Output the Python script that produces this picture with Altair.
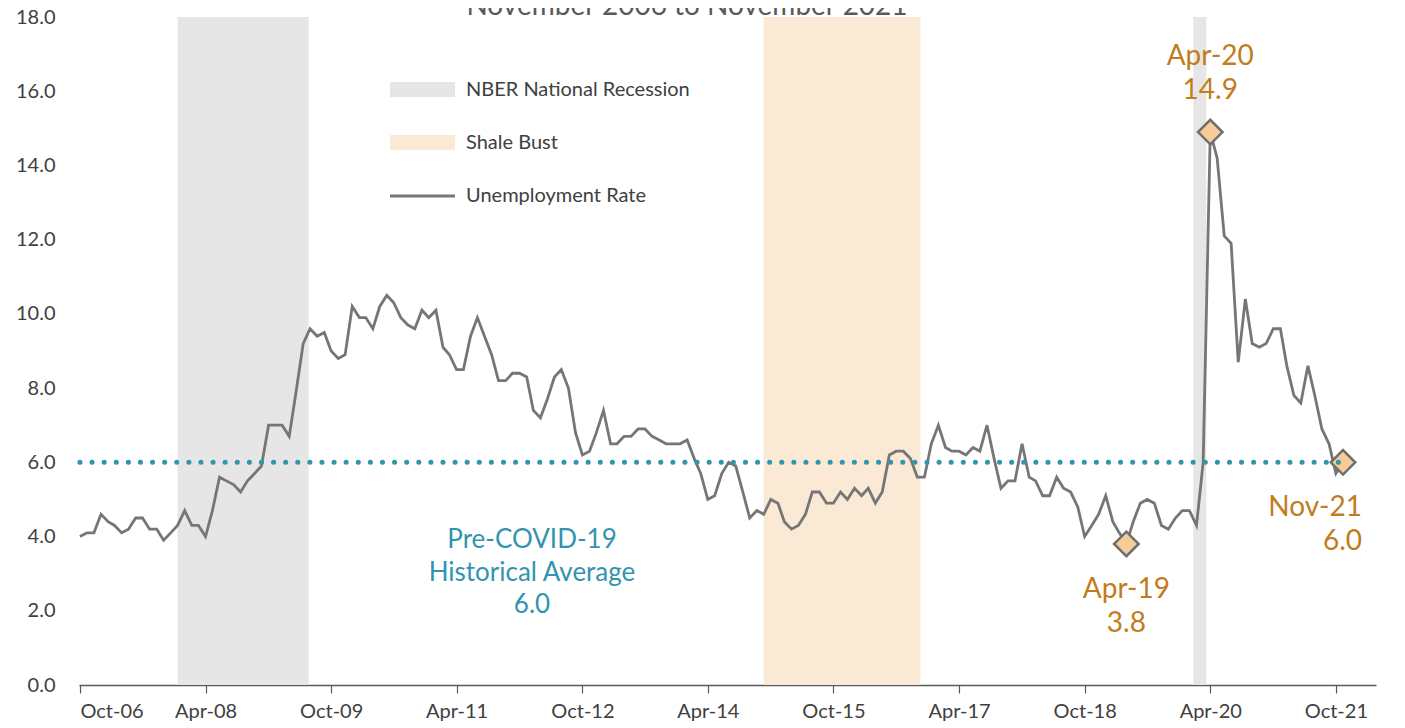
import altair as alt
import pandas as pd

# ---- data ----
start_month = "2006-10-01"
end_month = "2021-11-01"
rate = [
    4.0, 4.1, 4.1, 4.6, 4.4, 4.3, 4.1, 4.2, 4.5, 4.5,
    4.2, 4.2, 3.9, 4.1, 4.3, 4.7, 4.3, 4.3, 4.0, 4.7,
    5.6, 5.5, 5.4, 5.2, 5.5, 5.7, 5.9, 7.0, 7.0, 7.0,
    6.7, 7.9, 9.2, 9.6, 9.4, 9.5, 9.0, 8.8, 8.9, 10.2,
    9.9, 9.9, 9.6, 10.2, 10.5, 10.3, 9.9, 9.7, 9.6, 10.1,
    9.9, 10.1, 9.1, 8.9, 8.5, 8.5, 9.4, 9.9, 9.4, 8.9,
    8.2, 8.2, 8.4, 8.4, 8.3, 7.4, 7.2, 7.7, 8.3, 8.5,
    8.0, 6.8, 6.2, 6.3, 6.8, 7.4, 6.5, 6.5, 6.7, 6.7,
    6.9, 6.9, 6.7, 6.6, 6.5, 6.5, 6.5, 6.6, 6.1, 5.7,
    5.0, 5.1, 5.7, 6.0, 5.9, 5.2, 4.5, 4.7, 4.6, 5.0,
    4.9, 4.4, 4.2, 4.3, 4.6, 5.2, 5.2, 4.9, 4.9, 5.2,
    5.0, 5.3, 5.1, 5.3, 4.9, 5.2, 6.2, 6.3, 6.3, 6.1,
    5.6, 5.6, 6.5, 7.0, 6.4, 6.3, 6.3, 6.2, 6.4, 6.3,
    7.0, 6.1, 5.3, 5.5, 5.5, 6.5, 5.6, 5.5, 5.1, 5.1,
    5.6, 5.3, 5.2, 4.8, 4.0, 4.3, 4.6, 5.1, 4.4, 4.1,
    3.8, 4.4, 4.9, 5.0, 4.9, 4.3, 4.2, 4.5, 4.7, 4.7,
    4.3, 6.0, 14.9, 14.2, 12.1, 11.9, 8.7, 10.4, 9.2, 9.1,
    9.2, 9.6, 9.6, 8.6, 7.8, 7.6, 8.6, 7.8, 6.9, 6.5, 5.7, 6.0,
]
band_start = ["2007-12-01", "2014-12-01", "2020-01-18"]
band_end = ["2009-06-25", "2016-10-15", "2020-03-15"]
band_kind = ["NBER National Recession", "Shale Bust", "NBER National Recession"]

avg_value = 6.0

marker_dates = ["2019-04-01", "2020-04-01", "2021-11-01"]
marker_values = [3.8, 14.9, 6.0]
marker_labels = ["Apr-19\n3.8", "Apr-20\n14.9", "Nov-21\n6.0"]

tick_dates = [(2006, 10), (2008, 4), (2009, 10), (2011, 4), (2012, 10), (2014, 4),
              (2015, 10), (2017, 4), (2018, 10), (2020, 4), (2021, 10)]
y_ticks = [0, 2, 4, 6, 8, 10, 12, 14, 16, 18]

title_text = "November 2006 to November 2021"
avg_text = "Pre-COVID-19\nHistorical Average\n6.0"

# ---- tables ----
dates = pd.date_range(start_month, end_month, freq="MS")
df = pd.DataFrame({"date": dates, "rate": rate})
bands = pd.DataFrame({"start": pd.to_datetime(band_start), "end": pd.to_datetime(band_end), "kind": band_kind})
avg_df = pd.DataFrame({"start": [pd.Timestamp(start_month)], "end": [pd.Timestamp(end_month)], "avg": [avg_value]})
markers = pd.DataFrame({"date": pd.to_datetime(marker_dates), "rate": marker_values, "label": marker_labels})
dummy = pd.DataFrame({"a": [0]})

W, H = 1297, 668
FONT = "Lato"
ORANGE = "#c27c1c"
TEAL = "#3294ae"
GRAY_LINE = "#767676"

x_scale = alt.Scale(domain=[alt.DateTime(year=2006, month=9, date=27),
                            alt.DateTime(year=2022, month=3, date=25)])
y_scale = alt.Scale(domain=[0, 18], nice=False, zero=True)

x_axis = alt.Axis(
    values=[alt.DateTime(year=y, month=m, date=1) for y, m in tick_dates],
    format="%b-%y", title=None, grid=False,
    domainColor="#595959", domainWidth=1.5, tickColor="#595959", tickWidth=1.2, tickSize=8,
    labelFont=FONT, labelFontSize=20, labelColor="#404040", labelPadding=8,
)
y_axis = alt.Axis(
    values=y_ticks, format=".1f", title=None, grid=False, domain=False, ticks=False,
    labelFont=FONT, labelFontSize=20, labelColor="#404040", labelPadding=24,
)

band_layer = alt.Chart(bands).mark_rect().encode(
    x=alt.X("start:T", scale=x_scale, axis=x_axis),
    x2="end:T",
    y=alt.value(0), y2=alt.value(H),
    color=alt.Color("kind:N", scale=alt.Scale(domain=["NBER National Recession", "Shale Bust"],
                                              range=["#e6e6e6", "#f9e9d5"]), legend=None),
)

line_layer = alt.Chart(df).mark_line(color=GRAY_LINE, strokeWidth=2.8).encode(
    x=alt.X("date:T", scale=x_scale, axis=x_axis),
    y=alt.Y("rate:Q", scale=y_scale, axis=y_axis),
)

marker_layer = alt.Chart(markers).mark_point(
    shape="diamond", filled=True, fill="#f6cd99", stroke="#6e6e6e", strokeWidth=2.5, size=600, opacity=1
).encode(
    x=alt.X("date:T", scale=x_scale, axis=x_axis),
    y=alt.Y("rate:Q", scale=y_scale, axis=y_axis),
)

avg_layer = alt.Chart(avg_df).mark_rule(
    color=TEAL, strokeWidth=5, strokeDash=[0.1, 12], strokeCap="round"
).encode(
    x=alt.X("start:T", scale=x_scale, axis=x_axis),
    x2="end:T",
    y=alt.Y("avg:Q", scale=y_scale, axis=y_axis),
)


def marker_text(idx, dy, align="center", dx=0):
    return alt.Chart(markers.iloc[[idx]]).mark_text(
        font=FONT, fontSize=28, color=ORANGE, baseline="top", align=align,
        lineBreak="\n", lineHeight=34, dy=dy, dx=dx,
    ).encode(
        x=alt.X("date:T", scale=x_scale, axis=x_axis),
        y=alt.Y("rate:Q", scale=y_scale, axis=y_axis),
        text="label:N",
    )


t_apr19 = marker_text(0, 32)
t_apr20 = marker_text(1, -89)
t_nov21 = marker_text(2, 32, align="right", dx=19)

avg_label = alt.Chart(dummy).mark_text(
    font=FONT, fontSize=26, color=TEAL, baseline="top", align="center",
    lineBreak="\n", lineHeight=32.5,
).encode(x=alt.value(453), y=alt.value(510), text=alt.value(avg_text))

title_layer = alt.Chart(dummy).mark_text(
    font=FONT, fontSize=28, color="#595959", baseline="alphabetic", align="center",
).encode(x=alt.value(608), y=alt.value(-2), text=alt.value(title_text))

leg_nber = alt.Chart(dummy).mark_rect(color="#e6e6e6").encode(
    x=alt.value(311), x2=alt.value(376), y=alt.value(65), y2=alt.value(80))
leg_shale = alt.Chart(dummy).mark_rect(color="#f9e9d5").encode(
    x=alt.value(311), x2=alt.value(376), y=alt.value(118), y2=alt.value(133))
leg_line = alt.Chart(dummy).mark_rule(color=GRAY_LINE, strokeWidth=2.8).encode(
    x=alt.value(311), x2=alt.value(376), y=alt.value(179))


def leg_text(label, y):
    return alt.Chart(dummy).mark_text(
        font=FONT, fontSize=20, color="#404040", baseline="middle", align="left"
    ).encode(x=alt.value(387), y=alt.value(y), text=alt.value(label))


legend_texts = [leg_text("NBER National Recession", 73), leg_text("Shale Bust", 126),
                leg_text("Unemployment Rate", 179)]

chart = alt.layer(
    band_layer, line_layer, marker_layer, avg_layer,
    t_apr19, t_apr20, t_nov21, avg_label, title_layer,
    leg_nber, leg_shale, leg_line, *legend_texts,
).properties(
    width=W, height=H,
    padding={"left": 71, "top": 9, "right": 20, "bottom": 40},
    autosize=alt.AutoSizeParams(type="none"),
).configure_view(stroke=None)

chart.save("out.html", embed_options={"renderer": "svg", "actions": False})
